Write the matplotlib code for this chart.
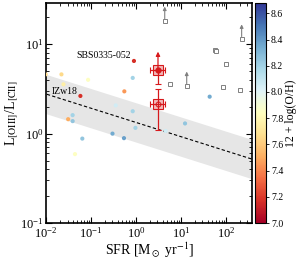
import numpy as np
import matplotlib
matplotlib.use("Agg")
import matplotlib.pyplot as plt

plt.rcParams['font.family'] = ['Liberation Serif', 'DejaVu Serif']
plt.rcParams['mathtext.fontset'] = 'stix'

# local dwarf galaxies: SFR, L[OIII]/L[CII], metallicity
sfr = [0.90, 0.022, 0.086, 0.845, 0.55, 0.058, 0.0244, 0.0098, 0.354, 0.845,
       0.039, 0.031, 0.039, 0.97, 0.30, 0.54, 0.064, 0.044, 43.4, 12.3, 4.57]
ratio = [6.5, 4.6, 4.0, 4.2, 2.97, 2.64, 3.56, 4.6, 2.07, 1.78,
         1.61, 1.45, 1.38, 1.16, 1.00, 0.89, 0.88, 0.59, 2.59, 1.30, 1.07]
oh = [7.17, 7.65, 7.85, 8.2, 7.45, 7.17, 7.75, 7.65, 8.05, 8.2,
      8.2, 7.5, 8.25, 8.2, 8.35, 8.38, 8.25, 7.85, 8.35, 8.25, 8.05]

# high-z galaxies (gray open squares)
hz_sfr = [4.35, 223, 56, 60, 99.5, 5.6, 13.4, 87.5, 201]
hz_ratio = [18.2, 11.5, 8.7, 8.5, 6.0, 3.59, 3.41, 3.35, 3.05]
hz_lowlim = [True, True, False, False, False, False, True, False, False]

# this work (red)
red_sfr = [3.08, 3.08]
red_sfr_lo = [2.05, 2.05]
red_sfr_hi = [4.35, 4.35]
red_ratio = [5.1, 2.13]
red_ratio_lo = [3.59, 1.10]
red_ratio_hi = [8.26, 3.13]

# local relation
fit_slope = -0.159
fit_icpt = 0.125
fit_scatter = 0.22

fig = plt.figure(figsize=(2.99, 2.63), dpi=100)
ax = fig.add_axes([0.154, 0.152, 0.689, 0.837])
cax = fig.add_axes([0.853, 0.152, 0.037, 0.837])

xx = np.logspace(-2.1, 2.7, 50)
yy = 10 ** (fit_icpt + fit_slope * np.log10(xx))
ax.fill_between(xx, yy / 10 ** fit_scatter, yy * 10 ** fit_scatter,
                color='#e6e6e6', lw=0, zorder=0)
ax.plot(xx, yy, 'k--', lw=0.8, dashes=(3, 2), zorder=1)

sc = ax.scatter(sfr, ratio, c=oh, cmap='RdYlBu', vmin=7.0, vmax=8.68,
                s=9, lw=0, zorder=3)

ax.plot(hz_sfr, hz_ratio, 's', ms=3, mfc='white', mec='gray', mew=0.7, zorder=3)
for x, y, lim in zip(hz_sfr, hz_ratio, hz_lowlim):
    if lim:
        ax.annotate('', xy=(x, y * 1.45), xytext=(x, y * 1.06),
                    arrowprops=dict(arrowstyle='-|>', color='gray', lw=0.8,
                                    mutation_scale=5, shrinkA=0, shrinkB=0))

red = '#d7191c'
for i in range(2):
    x, y = red_sfr[i], red_ratio[i]
    xerr = [[x - red_sfr_lo[i]], [red_sfr_hi[i] - x]]
    if i == 0:
        yerr = [[y - red_ratio_lo[i]], [0]]
    else:
        yerr = [[y - red_ratio_lo[i]], [red_ratio_hi[i] - y]]
    ax.errorbar([x], [y], xerr=xerr, yerr=yerr, fmt='s', ms=7, color=red,
                mfc=(0.84, 0.1, 0.11, 0.3), mec=red, mew=0.8, lw=0.9,
                capsize=2, capthick=0.9, zorder=4)
    if i == 0:
        ax.annotate('', xy=(x, red_ratio_hi[i]), xytext=(x, y),
                    arrowprops=dict(arrowstyle='-|>', color=red, lw=0.9,
                                    mutation_scale=6, shrinkA=0, shrinkB=0),
                    zorder=4)
        ax.plot([x], [y], 'o', ms=3.5, color=red, zorder=5)
    else:
        ax.plot([x], [y], 'o', ms=3.5, mfc='none', mec=red, mew=0.7, zorder=5)

ax.text(0.75, 7.4, 'SBS0335-052', fontsize=7, ha='right', va='center')
ax.text(0.0135, 2.94, 'IZw18', fontsize=7, ha='left', va='center')

ax.set_xscale('log')
ax.set_yscale('log')
ax.set_xlim(0.01, 380)
ax.set_ylim(0.1, 29)
ax.tick_params(which='both', direction='in', top=True, right=True, labelsize=9)
ax.tick_params(which='major', length=4, width=0.8, pad=2)
ax.tick_params(which='minor', length=2, width=0.6)
for s in ax.spines.values():
    s.set_linewidth(1.2)
ax.set_xlabel(r'SFR [M$_\odot$ yr$^{-1}$]', fontsize=10, labelpad=0)
ax.set_ylabel(r'L$_{\rm [OIII]}$/L$_{\rm [CII]}$', fontsize=10, labelpad=0)

cb = fig.colorbar(sc, cax=cax)
cb.set_ticks([7.0, 7.2, 7.4, 7.6, 7.8, 8.0, 8.2, 8.4, 8.6])
cb.ax.tick_params(labelsize=7, length=2, width=0.6, pad=1.5)
cb.set_label('12 + log(O/H)', fontsize=8.5, labelpad=1)
cb.outline.set_linewidth(0.8)

fig.savefig('out.png', dpi=100)
